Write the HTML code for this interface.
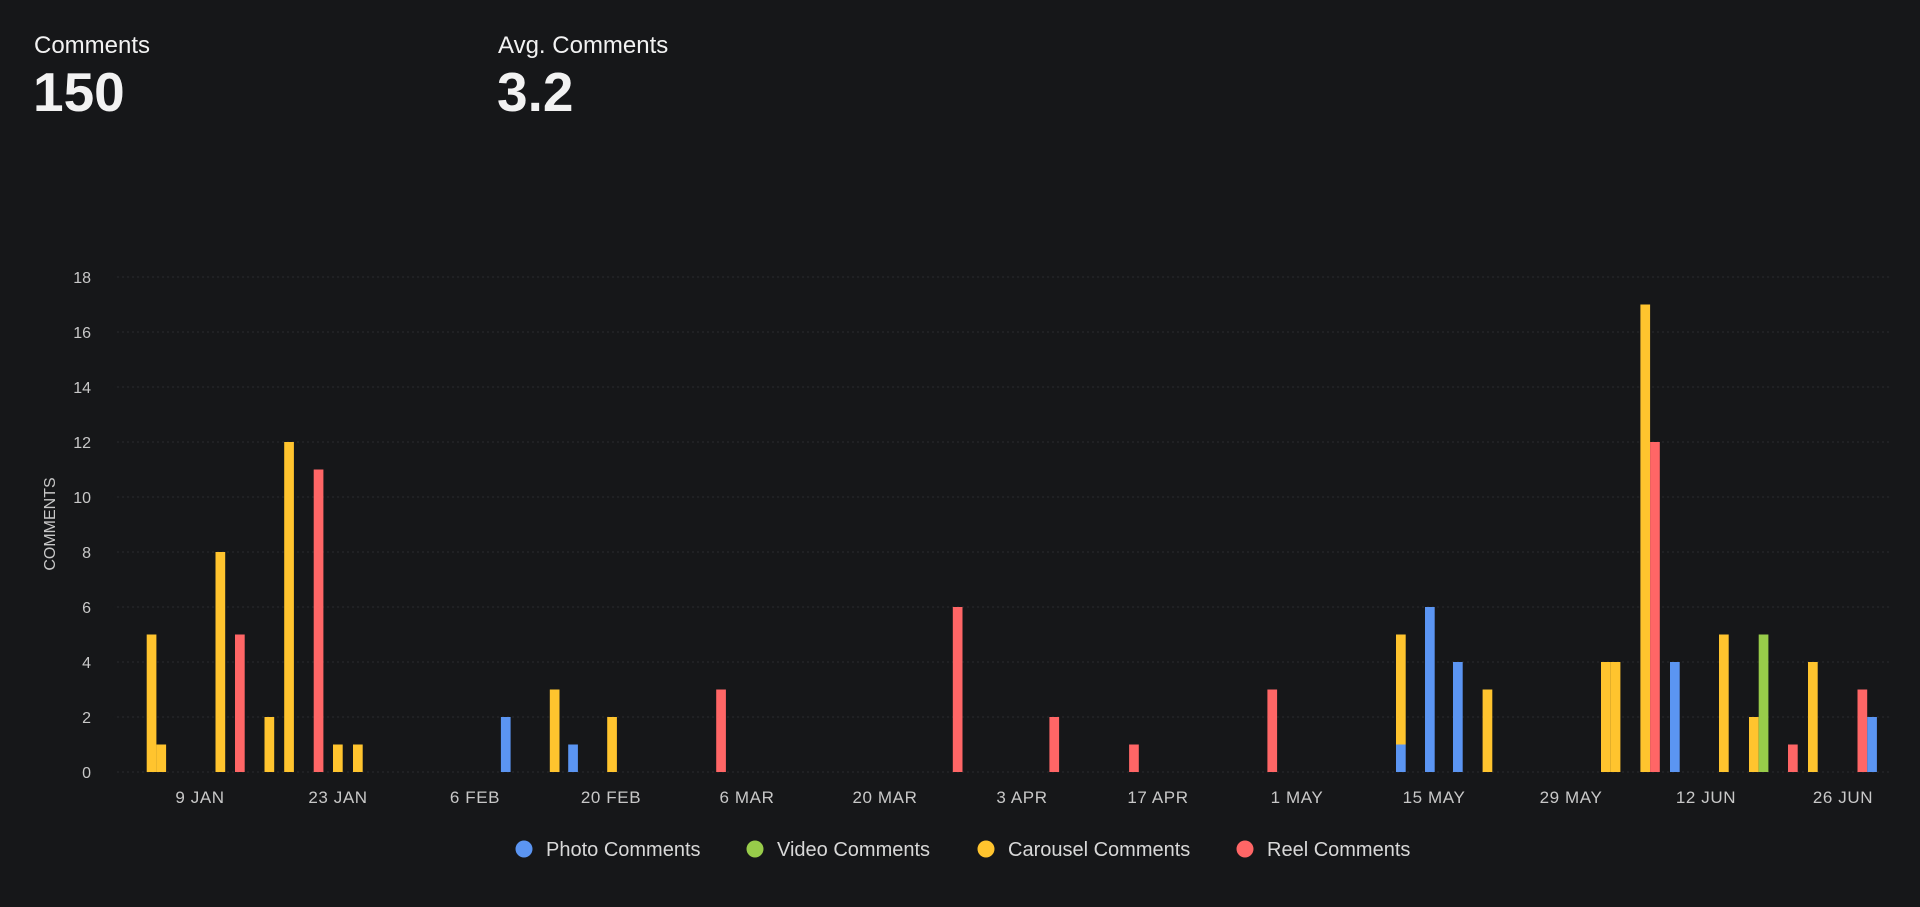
<!DOCTYPE html>
<html><head><meta charset="utf-8"><style>
html,body{margin:0;padding:0;background:#161719;}
body{width:1920px;height:907px;overflow:hidden;font-family:"Liberation Sans",sans-serif;}
</style></head><body>
<svg width="1920" height="907" xmlns="http://www.w3.org/2000/svg" style="position:absolute;left:0;top:0">
<rect width="1920" height="907" fill="#161719"/>
<g font-family="Liberation Sans, sans-serif" fill="#f2f2f2">
<text x="34" y="53" font-size="24">Comments</text>
<text x="33" y="111" font-size="55" font-weight="bold">150</text>
<text x="498" y="53" font-size="24">Avg. Comments</text>
<text x="497" y="111" font-size="55" font-weight="bold">3.2</text>
</g>
<g stroke="#2a2b2e" stroke-width="1" stroke-dasharray="2,3">
<line x1="117" x2="1890" y1="277" y2="277"/>
<line x1="117" x2="1890" y1="332" y2="332"/>
<line x1="117" x2="1890" y1="387" y2="387"/>
<line x1="117" x2="1890" y1="442" y2="442"/>
<line x1="117" x2="1890" y1="497" y2="497"/>
<line x1="117" x2="1890" y1="552" y2="552"/>
<line x1="117" x2="1890" y1="607" y2="607"/>
<line x1="117" x2="1890" y1="662" y2="662"/>
<line x1="117" x2="1890" y1="717" y2="717"/>
<line x1="117" x2="1890" y1="772" y2="772"/>
</g>
<g font-family="Liberation Sans, sans-serif" font-size="16" fill="#c8c8c8" text-anchor="end">
<text x="91" y="283">18</text><text x="91" y="338">16</text><text x="91" y="393">14</text>
<text x="91" y="448">12</text><text x="91" y="503">10</text><text x="91" y="558">8</text>
<text x="91" y="613">6</text><text x="91" y="668">4</text><text x="91" y="723">2</text>
<text x="91" y="778">0</text>
</g>
<text transform="translate(55,524) rotate(-90)" text-anchor="middle" font-family="Liberation Sans, sans-serif" font-size="16" fill="#c8c8c8">COMMENTS</text>
<g font-family="Liberation Sans, sans-serif" font-size="17" letter-spacing="0.6" fill="#c8c8c8" text-anchor="middle">
<text x="200" y="803">9 JAN</text><text x="338" y="803">23 JAN</text><text x="475" y="803">6 FEB</text>
<text x="611" y="803">20 FEB</text><text x="747" y="803">6 MAR</text><text x="885" y="803">20 MAR</text>
<text x="1022" y="803">3 APR</text><text x="1158" y="803">17 APR</text><text x="1297" y="803">1 MAY</text>
<text x="1434" y="803">15 MAY</text><text x="1571" y="803">29 MAY</text><text x="1706" y="803">12 JUN</text>
<text x="1843" y="803">26 JUN</text>
</g>
<g>
<g fill="#FFC42E">
<rect x="146.7" y="634.5" width="9.7" height="137.5"/>
<rect x="156.4" y="744.5" width="9.7" height="27.5"/>
<rect x="215.5" y="552" width="9.7" height="220"/>
<rect x="264.5" y="717" width="9.7" height="55"/>
<rect x="284.2" y="442" width="9.7" height="330"/>
<rect x="333" y="744.5" width="9.7" height="27.5"/>
<rect x="353" y="744.5" width="9.7" height="27.5"/>
<rect x="549.8" y="689.5" width="9.7" height="82.5"/>
<rect x="607.2" y="717" width="9.7" height="55"/>
<rect x="1396" y="634.5" width="9.7" height="110"/>
<rect x="1482.6" y="689.5" width="9.7" height="82.5"/>
<rect x="1601" y="662" width="9.7" height="110"/>
<rect x="1610.7" y="662" width="9.7" height="110"/>
<rect x="1640.4" y="304.5" width="9.7" height="467.5"/>
<rect x="1719" y="634.5" width="9.7" height="137.5"/>
<rect x="1749" y="717" width="9.7" height="55"/>
<rect x="1808" y="662" width="9.7" height="110"/>
</g>
<g fill="#FF6666">
<rect x="235" y="634.5" width="9.7" height="137.5"/>
<rect x="313.7" y="469.5" width="9.7" height="302.5"/>
<rect x="716.2" y="689.5" width="9.7" height="82.5"/>
<rect x="952.8" y="607" width="9.7" height="165"/>
<rect x="1049.4" y="717" width="9.7" height="55"/>
<rect x="1129.1" y="744.5" width="9.7" height="27.5"/>
<rect x="1267.4" y="689.5" width="9.7" height="82.5"/>
<rect x="1650.1" y="442" width="9.7" height="330"/>
<rect x="1788" y="744.5" width="9.7" height="27.5"/>
<rect x="1857.5" y="689.5" width="9.7" height="82.5"/>
</g>
<g fill="#5B95F2">
<rect x="500.9" y="717" width="9.7" height="55"/>
<rect x="568.2" y="744.5" width="9.7" height="27.5"/>
<rect x="1396" y="744.5" width="9.7" height="27.5"/>
<rect x="1425" y="607" width="9.7" height="165"/>
<rect x="1453" y="662" width="9.7" height="110"/>
<rect x="1670" y="662" width="9.7" height="110"/>
<rect x="1867.2" y="717" width="9.7" height="55"/>
</g>
<g fill="#98CC4A">
<rect x="1758.7" y="634.5" width="9.7" height="137.5"/>
</g>
</g>
<g font-family="Liberation Sans, sans-serif" font-size="20" fill="#d8d8d8">
<circle cx="524" cy="849" r="8.5" fill="#5B95F2"/><text x="546" y="856">Photo Comments</text>
<circle cx="755" cy="849" r="8.5" fill="#98CC4A"/><text x="777" y="856">Video Comments</text>
<circle cx="986" cy="849" r="8.5" fill="#FFC42E"/><text x="1008" y="856">Carousel Comments</text>
<circle cx="1245" cy="849" r="8.5" fill="#FF6666"/><text x="1267" y="856">Reel Comments</text>
</g>
</svg>
</body></html>
